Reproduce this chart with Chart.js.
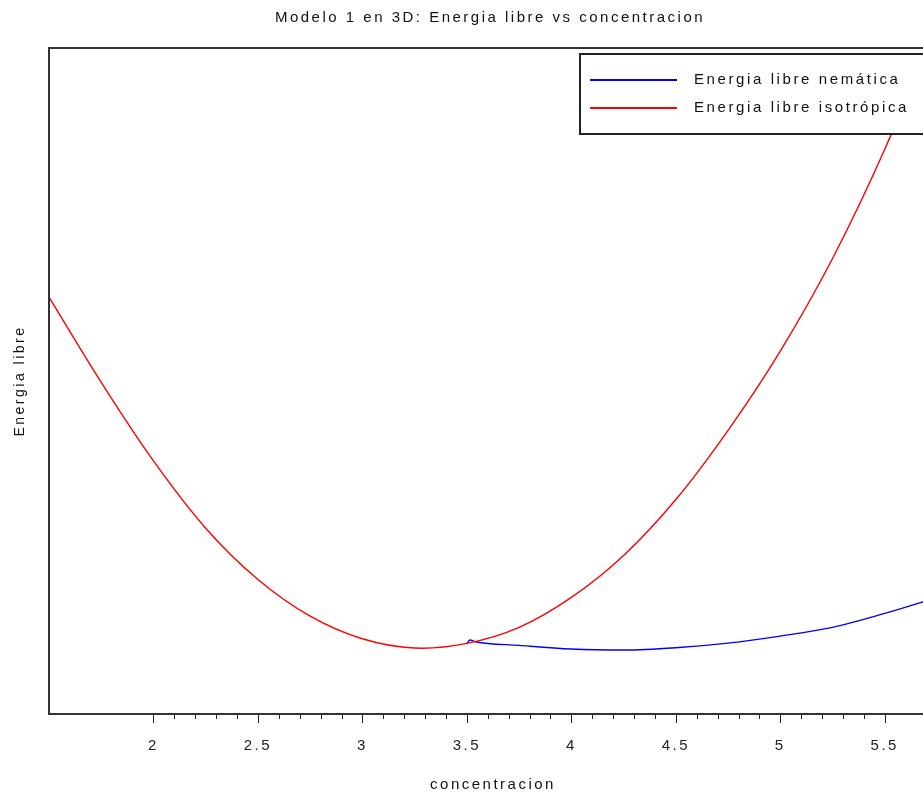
<!DOCTYPE html>
<html>
<head>
<meta charset="utf-8">
<title>Modelo 1 en 3D</title>
<script src="https://cdn.jsdelivr.net/npm/chart.js@4.4.1/dist/chart.umd.min.js"></script>
<style>
  html, body { margin: 0; padding: 0; background: #fff; overflow: hidden; }
  canvas { display: block; }
</style>
</head>
<body>
<canvas id="grafico" width="980" height="795"></canvas>
<script>
// datos (eje y sin escala: unidades arbitrarias)
const concIso = [1.5, 1.75, 2.0, 2.25, 2.5, 2.75, 3.0, 3.25, 3.5, 3.75, 4.0, 4.25,
  4.5, 4.75, 5.0, 5.25, 5.5, 5.75];
const energiaIso = [6.26, 4.98, 3.80, 2.79, 2.02, 1.47, 1.13, 0.99, 1.06, 1.30, 1.75, 2.38,
  3.22, 4.26, 5.45, 6.84, 8.48, 10.38];

const concNem = [3.5, 3.515, 3.54, 3.75, 4.0, 4.25, 4.5, 4.75, 5.0, 5.25, 5.5, 5.75];
const energiaNem = [1.06, 1.11, 1.085, 1.03, 0.975, 0.96, 0.995, 1.065, 1.17, 1.30, 1.51, 1.75];

const xTicks = [2, 2.5, 3, 3.5, 4, 4.5, 5, 5.5];
const xMin = 1.5, xMax = 5.75;
const yMin = 0, yMax = 10;

const FONT = 'Liberation Sans, Arial, Helvetica, sans-serif';
const SPACING = '2.5px';

function puntos(xs, ys) {
  return xs.map((x, i) => ({ x: x, y: ys[i] }));
}

// espaciado de letras como en el original (scilab)
const espaciado = {
  id: 'espaciado',
  beforeUpdate(chart) { chart.ctx.letterSpacing = SPACING; },
  afterLayout(chart) {
    // titulo centrado en toda la figura, no solo en el area visible
    chart.titleBlock.left = 0;
    chart.titleBlock.right = chart.width;
  },
  beforeDraw(chart) { chart.ctx.letterSpacing = SPACING; }
};

// marco del area y marcas del eje x
const marco = {
  id: 'marco',
  afterDatasetsDraw(chart) {
    const { ctx, chartArea: a, scales: { x } } = chart;
    ctx.save();
    ctx.strokeStyle = '#222';
    ctx.lineWidth = 1;
    const primero = xTicks[0] * 10, ultimo = xTicks[xTicks.length - 1] * 10;
    for (let k = primero; k <= ultimo; k++) {
      const px = Math.round(x.getPixelForValue(k / 10)) + 0.5;
      const mayor = k % 5 === 0;
      ctx.beginPath();
      ctx.moveTo(px, a.bottom);
      ctx.lineTo(px, a.bottom + (mayor ? 9 : 5));
      ctx.stroke();
    }
    ctx.strokeStyle = '#333';
    ctx.lineWidth = 2;
    ctx.strokeRect(a.left, a.top, a.right - a.left, a.bottom - a.top);
    ctx.restore();
  }
};

// leyenda con recuadro, como en el original
const leyenda = {
  id: 'leyenda',
  afterDraw(chart) {
    const ctx = chart.ctx;
    const ds = chart.data.datasets;
    ctx.save();
    ctx.fillStyle = '#fff';
    ctx.fillRect(580, 54, 420, 80);
    ctx.strokeStyle = '#222';
    ctx.lineWidth = 2;
    ctx.strokeRect(580, 54, 420, 80);
    ctx.font = '15px ' + FONT;
    ctx.letterSpacing = '2.6px';
    ctx.textBaseline = 'middle';
    ctx.textAlign = 'left';
    ds.forEach((d, i) => {
      const y = 80 + i * 28;
      ctx.strokeStyle = d.borderColor;
      ctx.lineWidth = 2;
      ctx.beginPath();
      ctx.moveTo(590, y);
      ctx.lineTo(677, y);
      ctx.stroke();
      ctx.fillStyle = '#111';
      ctx.fillText(d.label, 694, y);
    });
    ctx.restore();
  }
};

new Chart(document.getElementById('grafico'), {
  type: 'line',
  data: {
    datasets: [
      {
        label: 'Energia libre nemática',
        data: puntos(concNem, energiaNem),
        borderColor: '#0000ff',
        borderWidth: 1.4,
        pointRadius: 0,
        cubicInterpolationMode: 'monotone',
        order: 1
      },
      {
        label: 'Energia libre isotrópica',
        data: puntos(concIso, energiaIso),
        borderColor: '#ff0000',
        borderWidth: 1.4,
        pointRadius: 0,
        tension: 0.35,
        order: 0
      }
    ]
  },
  options: {
    responsive: false,
    animation: false,
    layout: { padding: { left: 0, right: 43, top: 0, bottom: 0 } },
    scales: {
      x: {
        type: 'linear',
        min: xMin,
        max: xMax,
        afterBuildTicks(scale) { scale.ticks = xTicks.map(v => ({ value: v })); },
        afterFit(scale) { scale.height = 81; },
        grid: { display: false, drawTicks: false },
        border: { display: false },
        ticks: {
          padding: 23,
          color: '#222',
          font: { family: FONT, size: 15 },
          maxRotation: 0,
          autoSkip: false,
          callback: value => String(value)
        },
        title: {
          display: true,
          text: 'concentracion',
          color: '#111',
          font: { family: FONT, size: 15 },
          padding: { top: 0, bottom: 1 }
        }
      },
      y: {
        min: yMin,
        max: yMax,
        afterFit(scale) { scale.width = 49; },
        grid: { display: false, drawTicks: false },
        border: { display: false },
        ticks: { display: false },
        title: {
          display: true,
          text: 'Energia libre',
          color: '#111',
          font: { family: FONT, size: 14 },
          padding: { top: 12, bottom: 0 }
        }
      }
    },
    plugins: {
      legend: { display: false },
      tooltip: { enabled: false },
      title: {
        display: true,
        text: 'Modelo 1 en 3D: Energia libre vs concentracion',
        color: '#111',
        font: { family: FONT, size: 15, weight: 'normal' },
        padding: { top: 8.5, bottom: 21.5 }
      }
    }
  },
  plugins: [espaciado, marco, leyenda]
});
</script>
</body>
</html>
